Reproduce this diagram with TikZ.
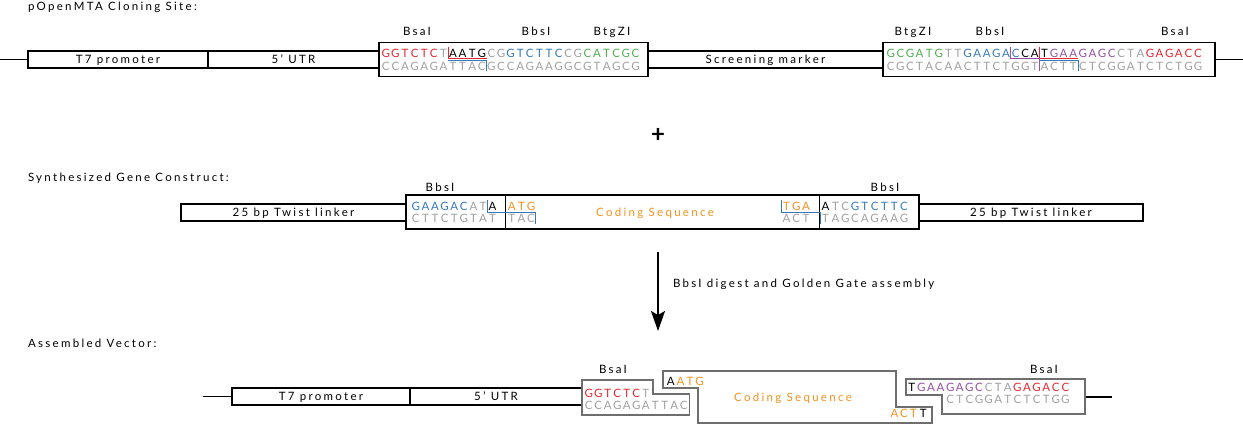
\documentclass[tikz,border=0pt]{standalone}
\usepackage{fontspec}
\setmainfont{Lato}[LetterSpace=20]
\newfontfamily\seqfont{Lato}
\usetikzlibrary{arrows.meta}
\definecolor{sred}{HTML}{E6262F}
\definecolor{sblue}{HTML}{3579BD}
\definecolor{sgreen}{HTML}{4EAE4E}
\definecolor{sgray}{HTML}{A0A0A0}
\definecolor{spurple}{HTML}{9450A8}
\definecolor{sorange}{HTML}{F5901E}
\definecolor{sline}{HTML}{6E6E6E}
\newlength\pitch
\setlength\pitch{9.6pt}
\def\sqaux#1{\ifx#1\relax\else\makebox[\pitch][c]{#1}\expandafter\sqaux\fi}
\newcommand\dnaseq[2]{{\color{#1}\sqaux#2\relax}}
\newcommand\dnagap{\makebox[\pitch]{}}
\newcommand\basesize{\fontsize{11.5}{13}\selectfont}
\begin{document}
\begin{tikzpicture}[x=1pt,y=-1pt,
  every node/.style={inner sep=0pt, outer sep=0pt, text height=8.2pt, text depth=0pt, font=\basesize},
  part/.style={draw, line width=1.1pt, minimum height=17pt},
  site/.style={draw, line width=1.1pt, minimum height=34pt},
  seqtxt/.style={anchor=west, font=\seqfont\basesize},
  title/.style={anchor=west},
  cut/.style={line width=0.9pt},
  asm/.style={draw=sline, line width=1.8pt, line join=miter},
  bb/.style={line width=1.1pt}]
\useasboundingbox (0,0) rectangle (1243,425);

% ---------------- Row 1 ----------------
\node[title] (title1) at (28,6) {pOpenMTA Cloning Site:};
\coordinate (b1s) at (0,59.5);
\node[part, minimum width=180pt] (t7a) at (118,59.5) {T7 promoter};
\node[part, minimum width=171pt] (utra) at (293.5,59.5) {5' UTR};
\node[site, minimum width=269pt] (site1a) at (513.5,59.5) {};
\node[part, minimum width=235pt] (scr) at (765.5,59.5) {Screening marker};
\node[site, minimum width=332pt] (site2a) at (1049,59.5) {};
\coordinate (b1e) at (1243,59.5);
\draw[bb] (b1s) -- (t7a.west);
\draw[bb] (site2a.east) -- (b1e);

\node (e1) at (417,31) {BsaI};
\node (e2) at (536,31) {BbsI};
\node (e3) at (612,31) {BtgZI};
\node (e4) at (913,31) {BtgZI};
\node (e5) at (990,31) {BbsI};
\node (e6) at (1175,31) {BsaI};

\node[seqtxt] (s1t) at (381,53) {\dnaseq{sred}{GGTCTC}\dnaseq{sgray}{T}\dnaseq{black}{AATG}\dnaseq{sgray}{CG}\dnaseq{sblue}{GTCTTC}\dnaseq{sgray}{CG}\dnaseq{sgreen}{CATCGC}};
\node[seqtxt] (s1b) at (381,66) {\dnaseq{sgray}{CCAGAGATTACGCCAGAAGGCGTAGCG}};
\draw[cut, sred] (448.2,47) -- (448.2,58.6) -- (486.6,58.6);
\draw[cut, sblue] (448.2,60.1) -- (486.6,60.1) -- (486.6,71.5);

\node[seqtxt] (s2t) at (886,53) {\dnaseq{sgreen}{GCGATG}\dnaseq{sgray}{TT}\dnaseq{sblue}{GAAGAC}\dnaseq{black}{CAT}\dnaseq{spurple}{GAAGAGC}\dnaseq{sgray}{CTA}\dnaseq{sred}{GAGACC}};
\node[seqtxt] (s2b) at (886,66) {\dnaseq{sgray}{CGCTACAACTTCTGGTACTTCTCGGATCTCTGG}};
\draw[cut, spurple] (1010.8,47) -- (1010.8,58.6) -- (1039.6,58.6) -- (1039.6,71.5);
\draw[cut, sred] (1039.6,47) -- (1039.6,58.6) -- (1078,58.6);
\draw[cut, sblue] (1039.6,60.1) -- (1078,60.1) -- (1078,71.5);

\node[font=\fontsize{24}{24}\selectfont\bfseries, text height=12pt] (plus) at (658,137) {+};

% ---------------- Row 2 ----------------
\node[title] (title2) at (28,177) {Synthesized Gene Construct:};
\node[part, minimum width=225pt] (lk1) at (293.5,212.5) {25 bp Twist linker};
\node[site, minimum width=99.5pt] (synL) at (455.75,212) {};
\node[site, minimum width=314pt] (synC) at (662.5,212) {};
\node[site, minimum width=99.5pt] (synR) at (869.25,212) {};
\node[part, minimum width=224pt] (lk2) at (1031,212.5) {25 bp Twist linker};

\node (e7) at (440,187) {BbsI};
\node (e8) at (885,187) {BbsI};
\node[text=sorange] (cds1) at (655,212) {Coding Sequence};

\node[seqtxt] (s3t) at (411,206) {\dnaseq{sblue}{GAAGAC}\dnaseq{sgray}{AT}\dnaseq{black}{A}\dnagap\dnaseq{sorange}{ATG}};
\node[seqtxt] (s3b) at (411,218) {\dnaseq{sgray}{CTTCTGTAT}\dnagap\dnaseq{sgray}{TAC}};
\draw[cut, sblue] (487.8,200.5) -- (487.8,212) -- (535.8,212) -- (535.8,223.5);

\node[seqtxt] (s4t) at (781.5,206) {\setlength\pitch{9.8pt}\dnaseq{sorange}{TGA}\dnagap\dnaseq{black}{A}\dnaseq{sgray}{TC}\dnaseq{sblue}{GTCTTC}};
\node[seqtxt] (s4b) at (781.5,218) {\setlength\pitch{9.8pt}\dnaseq{sgray}{ACT}\dnagap\dnaseq{sgray}{TAGCAGAAG}};
\draw[cut, sblue] (781.5,200.5) -- (781.5,212) -- (820.7,212) -- (820.7,223.5);

% ---------------- Arrow ----------------
\coordinate (a1) at (658,252);
\coordinate (a2) at (658,331);
\draw[line width=1.5pt, -{Stealth[length=20pt,width=14pt,inset=4pt]}] (a1) -- (a2);
\node[anchor=west] (alab) at (673,283) {BbsI digest and Golden Gate assembly};

% ---------------- Row 3 ----------------
\node[title] (title3) at (28,343) {Assembled Vector:};
\coordinate (b3s) at (203,396.5);
\node[part, minimum width=178pt] (t7b) at (321,396.5) {T7 promoter};
\node[part, minimum width=172pt] (utrb) at (496,396.5) {5' UTR};
\draw[bb] (b3s) -- (t7b.west);

\draw[asm] (582,380) -- (653,380) -- (653,394) -- (689.5,394) -- (689.5,415) -- (582,415) -- cycle;
\node[seqtxt] (s5t) at (584,393) {\setlength\pitch{9.5pt}\dnaseq{sred}{GGTCTC}\dnaseq{sgray}{T}};
\node[seqtxt] (s5b) at (584,405.5) {\setlength\pitch{9.5pt}\dnaseq{sgray}{CCAGAGATTAC}};
\node (e9) at (613,369) {BsaI};

\draw[asm] (663,371) -- (896,371) -- (896,407) -- (932,407) -- (932,423) -- (698,423) -- (698,388) -- (663,388) -- cycle;
\node[seqtxt] (s6t) at (666,381) {\dnaseq{black}{A}\dnaseq{sorange}{ATG}};
\node[text=sorange] (cds2) at (793,397) {Coding Sequence};
\node[seqtxt] (s6b) at (889.6,413) {\dnaseq{sorange}{ACT}\dnaseq{black}{T}};

\draw[asm] (906,379) -- (1085,379) -- (1085,414) -- (942,414) -- (942,395) -- (906,395) -- cycle;
\node[seqtxt] (s7t) at (907,387) {\dnaseq{black}{T}\dnaseq{spurple}{GAAGAGC}\dnaseq{sgray}{CTA}\dnaseq{sred}{GAGACC}};
\node[seqtxt] (s7b) at (945.4,399) {\dnaseq{sgray}{CTCGGATCTCTGG}};
\node (e10) at (1044,369) {BsaI};
\coordinate (rbE) at (1085.9,397);
\coordinate (b3e) at (1112,397);
\draw[bb] (rbE) -- (b3e);
\end{tikzpicture}
\end{document}
